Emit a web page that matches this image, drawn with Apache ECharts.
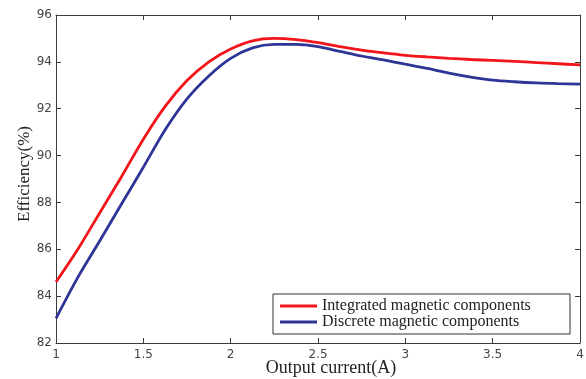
<!DOCTYPE html>
<html>
<head>
<meta charset="utf-8">
<script src="https://cdn.jsdelivr.net/npm/echarts@6/dist/echarts.min.js"></script>
<style>
  html, body { margin: 0; padding: 0; background: #fff; }
  #chart { width: 586px; height: 379px; }
</style>
</head>
<body>
<div id="chart"></div>
<script>
// 输出电流 (A)
var current = [1, 1.125, 1.25, 1.375, 1.5, 1.625, 1.75, 1.875, 2, 2.125, 2.25, 2.375, 2.5,
               2.625, 2.75, 2.875, 3, 3.125, 3.25, 3.375, 3.5, 3.625, 3.75, 3.875, 4];
// 集成磁件效率
var integrated = [84.6, 86.0, 87.55, 89.1, 90.7, 92.1, 93.2, 94.0, 94.55, 94.9, 95.0, 94.95, 94.82,
                  94.65, 94.5, 94.38, 94.28, 94.21, 94.15, 94.1, 94.06, 94.02, 93.97, 93.92, 93.87];
// 分立磁件效率
var discrete = [83.05, 84.8, 86.35, 87.93, 89.5, 91.1, 92.42, 93.4, 94.15, 94.6, 94.75, 94.75, 94.65,
                94.45, 94.25, 94.08, 93.9, 93.72, 93.52, 93.35, 93.22, 93.15, 93.1, 93.07, 93.05];
var seriesNames = ['Integrated magnetic components', 'Discrete magnetic components'];

var pairs = function(xs, ys){
    var out = [];
    for (var i = 0; i < xs.length; i++) {
        out.push([xs[i], ys[i]]);
    }
    return out;
};

var axisColor = '#3a3a3a';
var labelStyle = { color: '#444', fontFamily: 'DejaVu Sans', fontSize: 12 };

var myChart = echarts.init(document.getElementById('chart'), null, { renderer: 'canvas' });
var option = {
    animation: false,
    backgroundColor: '#fff',
    grid: { left: 56, right: 6, top: 15, bottom: 36, containLabel: false, outerBoundsMode: 'none' },
    legend: {
        orient: 'vertical',
        left: 273,
        top: 294,
        itemGap: 0,
        itemWidth: 37,
        itemHeight: 3,
        padding: [4, 2, 4, 7],
        borderColor: '#333',
        borderWidth: 1,
        backgroundColor: '#fff',
        icon: 'rect',
        textStyle: { fontFamily: 'Liberation Serif', fontSize: 16, lineHeight: 14, width: 246, color: '#222' },
        data: seriesNames
    },
    xAxis: [
        {
            type: 'value', min: 1, max: 4, interval: 0.5,
            name: 'Output current(A)', nameLocation: 'middle', nameGap: 16, nameMoveOverlap: false,
            nameTextStyle: { fontFamily: 'Liberation Serif', fontSize: 18, color: '#222', padding: [0, 0, 0, 26] },
            axisLine: { show: true, lineStyle: { color: axisColor, width: 1 } },
            axisTick: { show: true, inside: true, length: 5, lineStyle: { color: axisColor } },
            axisLabel: Object.assign({ margin: 6 }, labelStyle),
            splitLine: { show: false }
        },
        {
            type: 'value', min: 1, max: 4, interval: 0.5, position: 'top',
            axisLine: { show: true, lineStyle: { color: axisColor, width: 1 } },
            axisTick: { show: true, inside: true, length: 5, lineStyle: { color: axisColor } },
            axisLabel: { show: false },
            splitLine: { show: false }
        }
    ],
    yAxis: [
        {
            type: 'value', min: 82, max: 96, interval: 2,
            name: 'Efficiency(%)', nameLocation: 'middle', nameGap: 23, nameMoveOverlap: false,
            nameTextStyle: { fontFamily: 'Liberation Serif', fontSize: 17, color: '#222', padding: [0, 0, 0, 10] },
            axisLine: { show: true, lineStyle: { color: axisColor, width: 1 } },
            axisTick: { show: true, inside: true, length: 5, lineStyle: { color: axisColor } },
            axisLabel: Object.assign({ margin: 4 }, labelStyle),
            splitLine: { show: false }
        },
        {
            type: 'value', min: 82, max: 96, interval: 2, position: 'right',
            axisLine: { show: true, lineStyle: { color: axisColor, width: 1 } },
            axisTick: { show: true, inside: true, length: 5, lineStyle: { color: axisColor } },
            axisLabel: { show: false },
            splitLine: { show: false }
        }
    ],
    series: [
        {
            name: seriesNames[0],
            type: 'line',
            smooth: 0.3,
            symbol: 'none',
            color: '#f2151b',
            lineStyle: { width: 2.8, color: '#f2151b' },
            data: pairs(current, integrated)
        },
        {
            name: seriesNames[1],
            type: 'line',
            smooth: 0.3,
            symbol: 'none',
            color: '#2f3596',
            lineStyle: { width: 2.8, color: '#2f3596' },
            data: pairs(current, discrete)
        }
    ]
};
myChart.setOption(option);
</script>
</body>
</html>
